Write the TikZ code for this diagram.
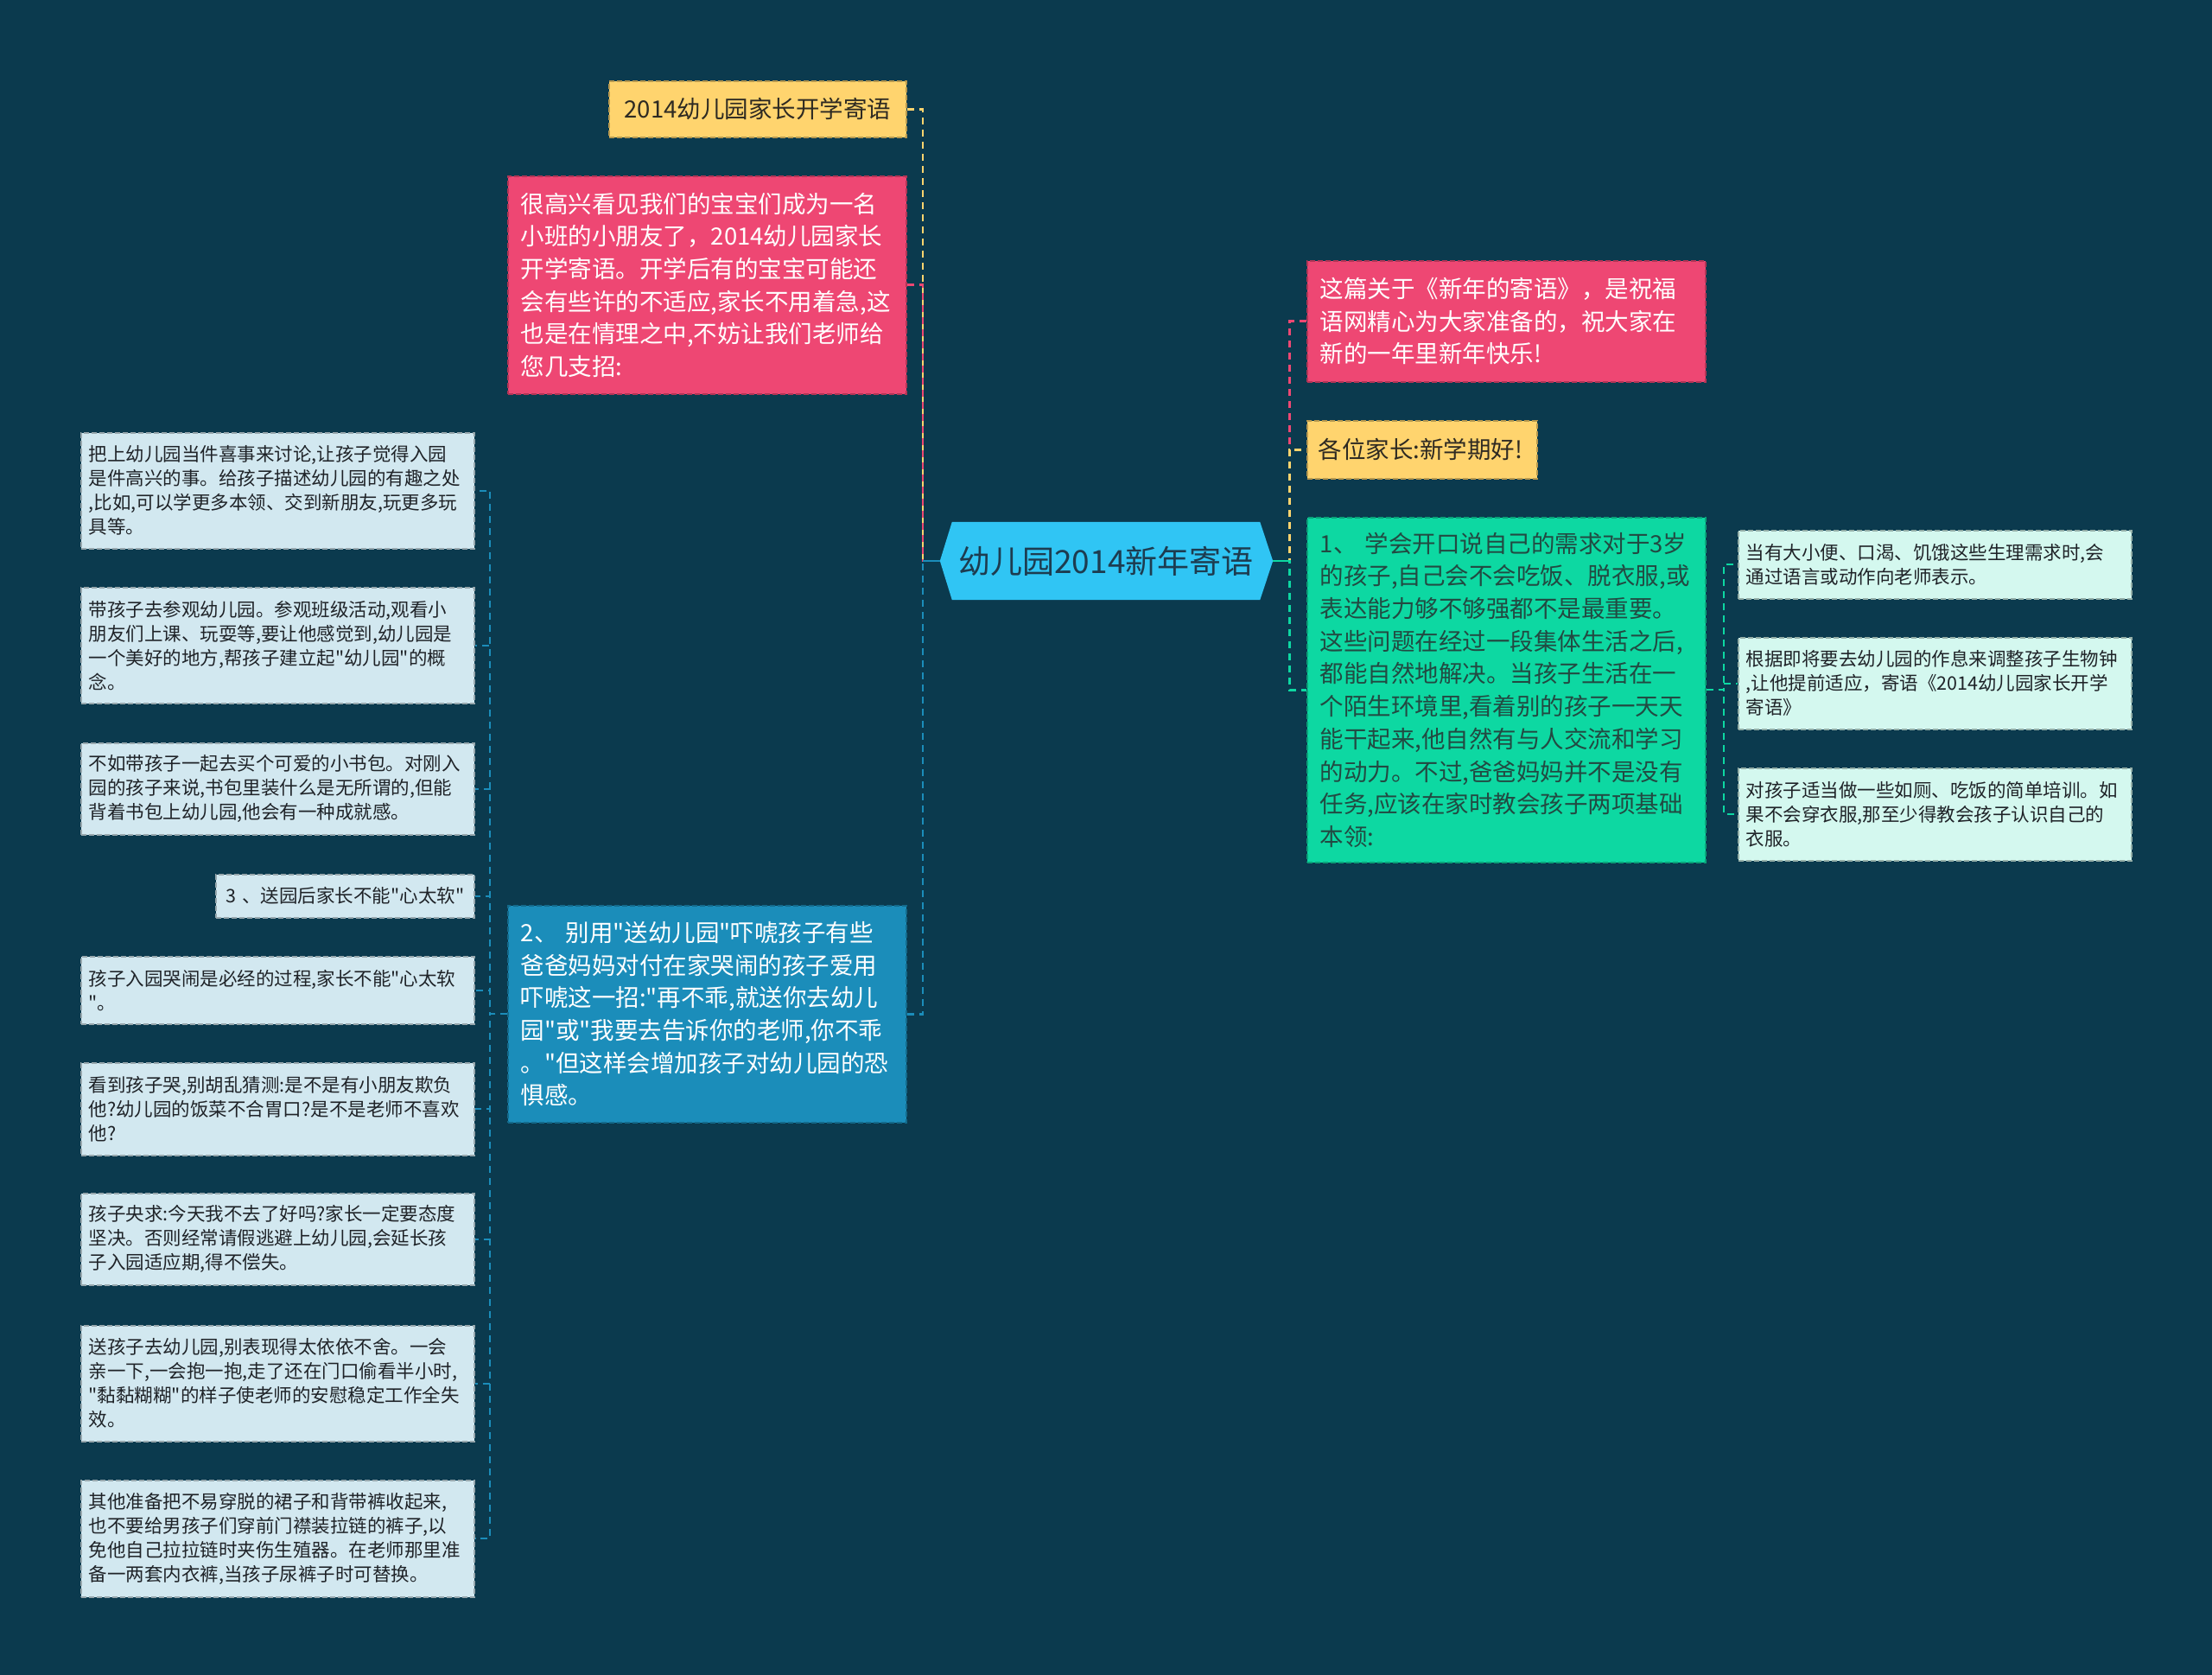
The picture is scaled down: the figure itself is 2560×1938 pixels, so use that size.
\documentclass[tikz,border=0pt]{standalone}
\usepackage{fontspec}
\newfontfamily\cjkfam{Noto Sans CJK SC}
\usetikzlibrary{backgrounds}
\definecolor{bgc}{HTML}{0B3A4E}
\definecolor{yellowc}{HTML}{FFD46E}
\definecolor{pinkc}{HTML}{EE4773}
\definecolor{bluec}{HTML}{1B8DBA}
\definecolor{rootc}{HTML}{30C5F4}
\definecolor{greenc}{HTML}{0DD8A2}
\definecolor{leafc}{HTML}{D2E8F0}
\definecolor{mintc}{HTML}{D4F8EF}
\definecolor{darktxt}{HTML}{1F2328}
\definecolor{ytxt}{HTML}{2E2A22}
\definecolor{gtxt}{HTML}{224A42}
\definecolor{roottxt}{HTML}{1D3C50}
\tikzset{
  boxbase/.style={anchor=north west, inner ysep=0pt, line width=1.5pt, dash pattern=on 6pt off 3pt},
  bigbox/.style={boxbase, align=left, minimum width=461pt, text width=431pt, inner xsep=15pt,
    font=\cjkfam\fontsize{27.5pt}{37.7pt}\selectfont},
  leafbox/.style={boxbase, align=left, minimum width=455pt, text width=437pt, inner xsep=9pt,
    font=\cjkfam\fontsize{21.5pt}{28pt}\selectfont, text=darktxt, fill=leafc, draw=leafc!72!black},
  mintbox/.style={leafbox, fill=mintc, draw=mintc!70!black},
  pinkbox/.style={bigbox, fill=pinkc, draw=pinkc!75!black, text=white},
  bluebox/.style={bigbox, fill=bluec, draw=bluec!75!black, text=white},
  greenbox/.style={bigbox, fill=greenc, draw=greenc!75!black, text=gtxt},
  yellowbox/.style={boxbase, align=center, inner xsep=10pt, fill=yellowc, draw=yellowc!72!black, text=ytxt,
    font=\cjkfam\fontsize{27.5pt}{37.7pt}\selectfont},
  conn/.style={line width=2.6pt, dash pattern=on 8pt off 6pt},
}
\begin{document}
\begin{tikzpicture}[x=1pt,y=-1pt]
\useasboundingbox (0,0) rectangle (2560,1938);
\begin{pgfonlayer}{background}
\fill[bgc] (0,0) rectangle (2560,1938);
\end{pgfonlayer}

% root
\node[font=\cjkfam\fontsize{37pt}{40pt}\selectfont, text=roottxt, minimum width=356pt, minimum height=90pt, inner sep=0pt] (root) at (1280,649) {幼儿园2014新年寄语};
\coordinate (rootL) at ([xshift=-14pt]root.west);
\coordinate (rootR) at ([xshift=15pt]root.east);
\coordinate (lt) at ([xshift=-20pt]rootL);
\coordinate (rt) at ([xshift=19pt]rootR);

% left first level
\node[yellowbox, minimum width=344pt, text width=324pt, minimum height=65pt] (ytop) at (704,93) {2014幼儿园家长开学寄语};
\node[pinkbox, minimum height=252pt] (pl) at (587,203) {很高兴看见我们的宝宝们成为一名\\小班的小朋友了，2014幼儿园家长\\开学寄语。开学后有的宝宝可能还\\会有些许的不适应,家长不用着急,这\\也是在情理之中,不妨让我们老师给\\您几支招:};
\node[bluebox, minimum height=251pt] (b2) at (587,1047) {2、 别用"送幼儿园"吓唬孩子有些\\爸爸妈妈对付在家哭闹的孩子爱用\\吓唬这一招:"再不乖,就送你去幼儿\\园"或"我要去告诉你的老师,你不乖\\。"但这样会增加孩子对幼儿园的恐\\惧感。};
\coordinate (c2) at ([xshift=-20pt]b2.west);

% left leaves
\node[leafbox, minimum height=134pt] (l1) at (93,500) {把上幼儿园当件喜事来讨论,让孩子觉得入园\\是件高兴的事。给孩子描述幼儿园的有趣之处\\,比如,可以学更多本领、交到新朋友,玩更多玩\\具等。};
\node[leafbox, minimum height=134pt] (l2) at (93,679) {带孩子去参观幼儿园。参观班级活动,观看小\\朋友们上课、玩耍等,要让他感觉到,幼儿园是\\一个美好的地方,帮孩子建立起"幼儿园"的概\\念。};
\node[leafbox, minimum height=106pt] (l3) at (93,859) {不如带孩子一起去买个可爱的小书包。对刚入\\园的孩子来说,书包里装什么是无所谓的,但能\\背着书包上幼儿园,他会有一种成就感。};
\node[leafbox, align=center, minimum width=299pt, text width=289pt, inner xsep=5pt, minimum height=50pt] (l4) at (249,1011) {3~、送园后家长不能"心太软"};
\node[leafbox, minimum height=78pt] (l5) at (93,1106) {孩子入园哭闹是必经的过程,家长不能"心太软\\"。};
\node[leafbox, minimum height=107pt] (l6) at (93,1229) {看到孩子哭,别胡乱猜测:是不是有小朋友欺负\\他?幼儿园的饭菜不合胃口?是不是老师不喜欢\\他?};
\node[leafbox, minimum height=106pt] (l7) at (93,1380) {孩子央求:今天我不去了好吗?家长一定要态度\\坚决。否则经常请假逃避上幼儿园,会延长孩\\子入园适应期,得不偿失。};
\node[leafbox, minimum height=134pt] (l8) at (93,1533) {送孩子去幼儿园,别表现得太依依不舍。一会\\亲一下,一会抱一抱,走了还在门口偷看半小时,\\"黏黏糊糊"的样子使老师的安慰稳定工作全失\\效。};
\node[leafbox, minimum height=135pt] (l9) at (93,1712) {其他准备把不易穿脱的裙子和背带裤收起来,\\也不要给男孩子们穿前门襟装拉链的裤子,以\\免他自己拉拉链时夹伤生殖器。在老师那里准\\备一两套内衣裤,当孩子尿裤子时可替换。};

% right first level
\node[pinkbox, minimum height=140pt] (pr) at (1512,301) {这篇关于《新年的寄语》，是祝福\\语网精心为大家准备的，祝大家在\\新的一年里新年快乐!};
\node[yellowbox, align=left, minimum width=266pt, text width=240pt, inner xsep=13pt, minimum height=67pt] (yr) at (1512,486) {各位家长:新学期好!};
\node[greenbox, minimum height=399pt] (g) at (1512,598) {1、 学会开口说自己的需求对于3岁\\的孩子,自己会不会吃饭、脱衣服,或\\表达能力够不够强都不是最重要。\\这些问题在经过一段集体生活之后,\\都能自然地解决。当孩子生活在一\\个陌生环境里,看着别的孩子一天天\\能干起来,他自然有与人交流和学习\\的动力。不过,爸爸妈妈并不是没有\\任务,应该在家时教会孩子两项基础\\本领:};
\coordinate (c3) at ([xshift=20pt]g.east);

% right leaves
\node[mintbox, minimum height=79pt] (m1) at (2011,613) {当有大小便、口渴、饥饿这些生理需求时,会\\通过语言或动作向老师表示。};
\node[mintbox, minimum height=106pt] (m2) at (2011,737) {根据即将要去幼儿园的作息来调整孩子生物钟\\,让他提前适应，寄语《2014幼儿园家长开学\\寄语》};
\node[mintbox, minimum height=107pt] (m3) at (2011,888) {对孩子适当做一些如厕、吃饭的简单培训。如\\果不会穿衣服,那至少得教会孩子认识自己的\\衣服。};

\begin{pgfonlayer}{background}
\fill[rootc] (root.north west) -- (root.north east) -- (rootR) -- (root.south east) -- (root.south west) -- (rootL) -- cycle;
% left trunk
\draw[conn, yellowc] (ytop.east) -| (lt) -- (rootL);
\draw[conn, pinkc] (pl.east) -| (lt) -- (rootL);
\draw[conn, bluec] (b2.east) -| (lt) -- (rootL);
\draw[line width=2.6pt, bluec] (lt) -- (rootL);
% right trunk
\draw[conn, pinkc] (rootR) -- (rt) |- (pr.west);
\draw[conn, yellowc] (rootR) -- (rt) |- (yr.west);
\draw[conn, greenc] (rootR) -- (rt) |- (g.west);
\draw[line width=2.6pt, greenc] (rootR) -- (rt);
% left leaves
\foreach \n in {l1,l2,l3,l4,l5,l6,l7,l8,l9}{
  \draw[conn, line width=2pt, bluec] (b2.west) -- (c2) |- (\n.east);
}
% right leaves
\foreach \n in {m1,m2,m3}{
  \draw[conn, line width=2pt, greenc] (g.east) -- (c3) |- (\n.west);
}
\end{pgfonlayer}
\end{tikzpicture}
\end{document}
